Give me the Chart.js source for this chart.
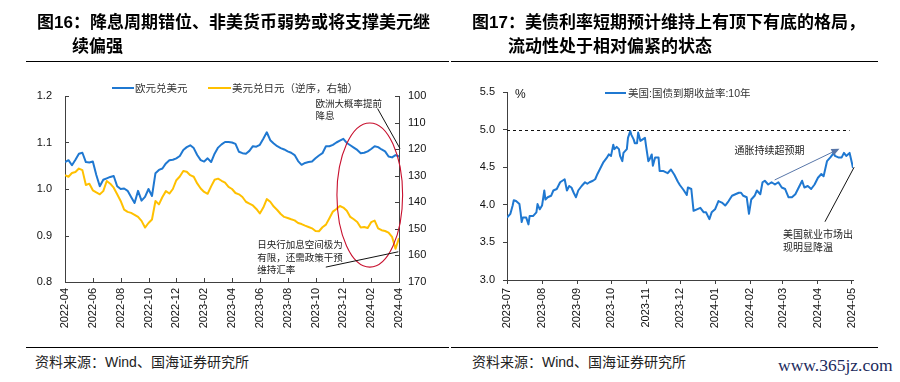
<!DOCTYPE html>
<html><head><meta charset="utf-8">
<script src="https://cdn.jsdelivr.net/npm/chart.js@4.4.1/dist/chart.umd.min.js"></script>
<style>
body{margin:0;background:#fff;}
#page{position:relative;width:900px;height:382px;overflow:hidden;background:#fff;}
.abs{position:absolute;white-space:nowrap;}
.title{font-size:17px;font-weight:700;color:#000;line-height:24px;font-family:"Liberation Sans","Noto Sans CJK SC",sans-serif;}
.rule{position:absolute;height:1px;background:#000;}
.foot{font-size:14px;color:#222;line-height:20px;font-family:"Liberation Sans","Noto Sans CJK SC",sans-serif;}
.leg{font-size:10.5px;color:#333;line-height:14px;font-family:"Liberation Sans","Noto Sans CJK SC",sans-serif;}
.legline{position:absolute;height:2px;}
canvas{position:absolute;top:0;}
</style></head>
<body><div id="page">
<canvas id="c1" width="450" height="345" style="left:0"></canvas>
<canvas id="c2" width="450" height="345" style="left:450px"></canvas>

<div class="abs title" style="left:37px;top:11px">图16：降息周期错位、非美货币弱势或将支撑美元继</div>
<div class="abs title" style="left:72px;top:35px">续偏强</div>
<div class="abs title" style="left:472px;top:11px">图17：美债利率短期预计维持上有顶下有底的格局，</div>
<div class="abs title" style="left:508px;top:35px">流动性处于相对偏紧的状态</div>
<div class="rule" style="left:26px;width:423px;top:61px"></div>
<div class="rule" style="left:451px;width:427px;top:61px"></div>

<div class="legline" style="left:112px;width:22px;top:87px;background:#1f78d1"></div>
<div class="abs leg" style="left:135px;top:81px">欧元兑美元</div>
<div class="legline" style="left:208px;width:23px;top:87px;background:#ffc000"></div>
<div class="abs leg" style="left:232px;top:81px">美元兑日元（逆序，右轴）</div>

<div class="legline" style="left:605px;width:21px;top:92px;background:#1f78d1"></div>
<div class="abs leg" style="left:628px;top:86px">美国:国债到期收益率:10年</div>
<div class="abs" style="left:515px;top:87px;font:12px 'Liberation Sans',sans-serif;color:#111">%</div>

<div class="rule" style="left:26px;width:423px;top:347px"></div>
<div class="rule" style="left:451px;width:427px;top:347px"></div>
<div class="abs foot" style="left:35px;top:352px">资料来源：Wind、国海证券研究所</div>
<div class="abs foot" style="left:472px;top:352px">资料来源：Wind、国海证券研究所</div>
<div class="abs" style="left:778px;top:355px;font:17.5px 'Liberation Serif',serif;color:#1b2a5c">www.365jz.com</div>
</div>
<script>
// ---------- Figure 16 data (weekly readings, Apr 2022 - Apr 2024) ----------
const fxTickLabels = ['2022-04','2022-06','2022-08','2022-10','2022-12','2023-02','2023-04','2023-06','2023-08','2023-10','2023-12','2024-02','2024-04'];
const fxStart = '2022-04';
const fxStepMonths = 0.25; // one reading per week
const eurUsd = [
1.058,1.062,1.051,1.063,1.076,1.078,1.058,1.057,1.059,1.030,
1.006,1.020,1.023,1.026,1.028,1.006,1.000,1.001,0.996,0.983,
0.970,0.996,0.975,0.983,1.000,0.985,1.034,1.041,1.044,1.055,
1.062,1.063,1.066,1.071,1.084,1.090,1.094,1.088,1.073,1.062,
1.059,1.066,1.058,1.076,1.089,1.096,1.101,1.101,1.100,1.097,
1.080,1.077,1.076,1.082,1.092,1.091,1.095,1.108,1.122,1.105,
1.098,1.092,1.088,1.085,1.081,1.078,1.073,1.060,1.052,1.056,
1.058,1.059,1.066,1.072,1.077,1.092,1.092,1.095,1.100,1.104,
1.108,1.099,1.094,1.089,1.084,1.077,1.078,1.081,1.086,1.092,
1.090,1.085,1.081,1.070,1.068,1.073,1.070];
const usdJpy = [
129.8,130.4,129.0,128.6,127.3,127.9,133.5,133.0,135.5,136.3,
137.0,135.8,132.0,133.0,134.5,137.0,139.5,142.8,143.6,144.0,
144.7,145.5,147.0,149.5,147.8,146.5,139.5,140.8,138.0,135.8,
136.7,135.0,131.7,130.3,128.2,128.5,129.8,130.4,132.9,134.8,
136.1,136.8,134.0,131.5,131.1,131.9,132.6,134.2,135.0,136.5,
137.0,138.0,139.8,140.5,141.2,142.5,144.2,142.0,138.8,139.8,
141.6,142.9,144.4,145.5,145.9,146.4,146.8,147.8,148.2,148.8,
149.3,149.8,150.8,150.9,149.4,148.4,146.0,143.5,142.5,141.4,
142.0,143.2,145.5,146.4,147.4,149.5,149.3,149.7,147.5,146.9,
149.8,150.5,150.8,151.4,153.0,157.5,153.5];
const fxLeftTicks = [0.8,0.9,1.0,1.1,1.2];
const fxRightTicks = [100,110,120,130,140,150,160,170];

// ---------- Figure 17 data (US 10Y yield, Jul 2023 - May 2024) ----------
const tsyTickLabels = ['2023-07','2023-08','2023-09','2023-10','2023-11','2023-12','2024-01','2024-02','2024-03','2024-04','2024-05'];
const tsyStart = '2023-07-01';
const tsyDay = [0,3,5,6,8,11,12,13,14,17,19,20,23,26,27,29,31,33,34,36,39,41,44,47,49,51,53,55,57,59,61,63,66,69,71,73,76,78,80,82,85,88,90,92,94,95,97,99,100,102,103,106,107,109,110,112,113,115,116,118,120,122,123,125,126,128,129,131,134,135,138,142,145,148,151,153,156,159,160,163,165,168,171,174,176,179,181,184,187,190,193,196,199,202,205,207,209,212,214,216,219,221,224,226,228,231,234,237,240,243,246,249,252,255,258,261,263,266,269,272,275,278,280,283,286,289,290,293,296,298,300,303,305,306];
const tsyYield = [3.83,3.88,3.99,4.06,4.05,4.01,3.90,3.77,3.83,3.83,3.74,3.85,3.85,3.90,4.01,3.94,3.99,4.19,4.07,4.10,4.12,4.19,4.21,4.30,4.32,4.34,4.19,4.25,4.23,4.16,4.10,4.19,4.25,4.30,4.28,4.30,4.32,4.34,4.41,4.47,4.56,4.62,4.67,4.65,4.80,4.74,4.77,4.74,4.65,4.58,4.69,4.74,4.89,4.98,4.93,4.87,4.82,4.82,4.96,4.85,4.87,4.89,4.78,4.58,4.60,4.67,4.52,4.63,4.63,4.45,4.45,4.42,4.47,4.40,4.31,4.26,4.20,4.13,4.23,4.21,3.92,3.94,3.96,3.90,3.90,3.81,3.90,3.94,4.05,4.03,3.99,4.05,4.12,4.14,4.16,4.16,4.12,4.10,3.88,4.07,4.12,4.19,4.14,4.30,4.32,4.27,4.30,4.27,4.30,4.23,4.21,4.10,4.10,4.14,4.23,4.32,4.23,4.25,4.21,4.27,4.36,4.41,4.38,4.58,4.63,4.69,4.65,4.63,4.63,4.69,4.65,4.69,4.56,4.49];
const tsyCeiling = 5.0;
const tsyTicks = [3.0,3.5,4.0,4.5,5.0,5.5];

// ---------- helpers ----------
const BLUE='#1f78d1', GOLD='#ffc000', AXIS='#404040';
const CJK = '"Noto Sans CJK SC", sans-serif';
Chart.defaults.font.family = '"Liberation Sans", Arial, sans-serif';
Chart.defaults.font.size = 11;
Chart.defaults.color = '#111';
function monthIndex(lbl, base){const [y,m]=lbl.split('-').map(Number);const [by,bm]=base.split('-').map(Number);return (y-by)*12+(m-bm);}
function dayIndex(lbl, base){const [y,m]=lbl.split('-').map(Number);const b=base.split('-').map(Number);return Math.round((Date.UTC(y,m-1,1)-Date.UTC(b[0],b[1]-1,b[2]))/86400000);}

const fxTickPos = fxTickLabels.map(l=>monthIndex(l,fxStart));
const fxLabelAt = {}; fxTickLabels.forEach((l,i)=>fxLabelAt[fxTickPos[i]]=l);
const eurPts = eurUsd.map((v,i)=>({x:i*fxStepMonths,y:v}));
const jpyPts = usdJpy.map((v,i)=>({x:i*fxStepMonths,y:v}));

const tsyTickPos = tsyTickLabels.map(l=>dayIndex(l,tsyStart));
const tsyLabelAt = {}; tsyTickLabels.forEach((l,i)=>tsyLabelAt[tsyTickPos[i]]=l);
const tsyPts = tsyYield.map((v,i)=>({x:tsyDay[i],y:v}));

function drawLines(ctx, lines, font, color){
  ctx.font = font; ctx.fillStyle = color; ctx.textBaseline='middle'; ctx.textAlign='left';
  lines.forEach(l=>ctx.fillText(l.t,l.x,l.y));
}

// annotations for Fig 16 (in data units: x = months since 2022-04, y = EUR/USD scale)
const fxNotes = {
  ecbText:[['欧洲大概率提前',18.0,1.184],['降息',18.0,1.158]],
  ecbLine:[[22.46,1.173],[24.07,1.087]],
  ellipse:{cx:21.9,cy:0.987,rx:2.36,ry:0.155},
  bojText:[['日央行加息空间极为',13.82,0.880],['有限，还需政策干预',13.82,0.853],['维持汇率',13.82,0.827]],
  bojLine:[[18.74,0.832],[23.95,0.865]]
};
const fxDecor = {
  id:'fxDecor',
  afterDatasetsDraw(chart){
    const {ctx, chartArea:a, scales:{x,y,y2}} = chart;
    ctx.save();
    ctx.strokeStyle=AXIS; ctx.lineWidth=1; ctx.beginPath();
    x.ticks.forEach(t=>{const p=Math.round(x.getPixelForValue(t.value))+0.5;ctx.moveTo(p,a.bottom);ctx.lineTo(p,a.bottom-4);});
    y.ticks.forEach(t=>{const p=Math.round(y.getPixelForValue(t.value))+0.5;ctx.moveTo(a.left,p);ctx.lineTo(a.left+4,p);});
    y2.ticks.forEach(t=>{const p=Math.round(y2.getPixelForValue(t.value))+0.5;ctx.moveTo(a.right,p);ctx.lineTo(a.right-4,p);});
    ctx.stroke();
    const P=(m,v)=>[x.getPixelForValue(m),y.getPixelForValue(v)];
    // ellipse
    const e=fxNotes.ellipse; const [cx,cy]=P(e.cx,e.cy);
    const rx=x.getPixelForValue(e.cx+e.rx)-cx, ry=y.getPixelForValue(e.cy-e.ry)-cy;
    ctx.strokeStyle='#c8102e'; ctx.lineWidth=1.1; ctx.beginPath(); ctx.ellipse(cx,cy,rx,ry,0,0,Math.PI*2); ctx.stroke();
    // pointer lines
    ctx.strokeStyle='#111'; ctx.lineWidth=1;
    [fxNotes.ecbLine, fxNotes.bojLine].forEach(l=>{const a1=P(...l[0]),b1=P(...l[1]);ctx.beginPath();ctx.moveTo(...a1);ctx.lineTo(...b1);ctx.stroke();});
    const font='9.5px '+CJK;
    drawLines(ctx, fxNotes.ecbText.concat(fxNotes.bojText).map(r=>{const p=P(r[1],r[2]);return {t:r[0],x:p[0],y:p[1]};}), font, '#222');
    ctx.restore();
  }
};

new Chart(document.getElementById('c1'),{
  type:'line',
  data:{datasets:[
    {label:'欧元兑美元',data:eurPts,yAxisID:'y',borderColor:BLUE,borderWidth:2,pointRadius:0,tension:0,borderJoinStyle:'round'},
    {label:'美元兑日元（逆序，右轴）',data:jpyPts,yAxisID:'y2',borderColor:GOLD,borderWidth:2,pointRadius:0,tension:0,borderJoinStyle:'round'}
  ]},
  options:{
    responsive:false,animation:false,
    layout:{padding:{top:96,left:0,right:0,bottom:0}},
    plugins:{legend:{display:false},tooltip:{enabled:false}},
    scales:{
      x:{type:'linear',min:0,max:24,
        afterBuildTicks:s=>{s.ticks=fxTickPos.map(v=>({value:v}));},
        afterFit:s=>{s.height=63;},
        grid:{display:false,drawTicks:false},border:{display:true,color:AXIS,width:1},
        ticks:{autoSkip:false,minRotation:90,maxRotation:90,padding:6,callback:v=>fxLabelAt[v]}},
      y:{type:'linear',position:'left',min:0.8,max:1.2,
        afterBuildTicks:s=>{s.ticks=fxLeftTicks.map(v=>({value:v}));},
        afterFit:s=>{s.width=65;},
        grid:{display:false,drawTicks:false},border:{display:true,color:AXIS,width:1},
        ticks:{padding:13,callback:v=>v.toFixed(1)}},
      y2:{type:'linear',position:'right',reverse:true,min:100,max:170,
        afterBuildTicks:s=>{s.ticks=fxRightTicks.map(v=>({value:v}));},
        afterFit:s=>{s.width=51;},
        grid:{display:false,drawTicks:false},border:{display:true,color:AXIS,width:1},
        ticks:{padding:9,callback:v=>String(v)}}
    }
  },
  plugins:[fxDecor]
});

// annotations for Fig 17 (x = days since 2023-07-01, y = yield %)
const tsyNotes = {
  arrow:[[236.7,4.33],[294,4.745]],
  inflText:[['通胀持续超预期',201.3,4.72]],
  jobLine:[[281.2,3.775],[307,4.50]],
  jobText:[['美国就业市场出',244,3.61],['现明显降温',244,3.43]]
};
const tsyDecor = {
  id:'tsyDecor',
  afterDatasetsDraw(chart){
    const {ctx, scales:{x,y}} = chart;
    const P=(d,v)=>[x.getPixelForValue(d),y.getPixelForValue(v)];
    ctx.save();
    // ceiling dashed line
    const yc=Math.round(y.getPixelForValue(tsyCeiling))+0.5;
    ctx.strokeStyle='#111'; ctx.lineWidth=1; ctx.setLineDash([3,3]);
    ctx.beginPath(); ctx.moveTo(x.getPixelForValue(0),yc); ctx.lineTo(x.getPixelForValue(303),yc); ctx.stroke();
    ctx.setLineDash([]);
    // arrow
    const a1=P(...tsyNotes.arrow[0]), b1=P(...tsyNotes.arrow[1]);
    const ang=Math.atan2(b1[1]-a1[1],b1[0]-a1[0]);
    ctx.strokeStyle='#5876a8'; ctx.fillStyle='#5876a8'; ctx.lineWidth=1;
    ctx.beginPath(); ctx.moveTo(...a1); ctx.lineTo(b1[0]-6*Math.cos(ang),b1[1]-6*Math.sin(ang)); ctx.stroke();
    ctx.beginPath(); ctx.moveTo(...b1);
    ctx.lineTo(b1[0]-8*Math.cos(ang)+3.5*Math.sin(ang), b1[1]-8*Math.sin(ang)-3.5*Math.cos(ang));
    ctx.lineTo(b1[0]-8*Math.cos(ang)-3.5*Math.sin(ang), b1[1]-8*Math.sin(ang)+3.5*Math.cos(ang));
    ctx.closePath(); ctx.fill();
    // job line
    const c1=P(...tsyNotes.jobLine[0]), d1=P(...tsyNotes.jobLine[1]);
    ctx.strokeStyle='#111'; ctx.beginPath(); ctx.moveTo(...c1); ctx.lineTo(...d1); ctx.stroke();
    const font='10px '+CJK;
    drawLines(ctx, tsyNotes.inflText.concat(tsyNotes.jobText).map(r=>{const p=P(r[1],r[2]);return {t:r[0],x:p[0],y:p[1]};}), font, '#222');
    ctx.restore();
  }
};

new Chart(document.getElementById('c2'),{
  type:'line',
  data:{datasets:[
    {label:'美国:国债到期收益率:10年',data:tsyPts,borderColor:BLUE,borderWidth:2,pointRadius:0,tension:0,borderJoinStyle:'round'}
  ]},
  options:{
    responsive:false,animation:false,
    layout:{padding:{top:92,left:0,right:47,bottom:0}},
    plugins:{legend:{display:false},tooltip:{enabled:false}},
    scales:{
      x:{type:'linear',min:0,max:306,
        afterBuildTicks:s=>{s.ticks=tsyTickPos.map(v=>({value:v}));},
        afterFit:s=>{s.height=65;},
        grid:{display:true,drawOnChartArea:false,drawTicks:true,tickLength:4,color:AXIS},border:{display:true,color:AXIS,width:1},
        ticks:{autoSkip:false,minRotation:90,maxRotation:90,padding:4,callback:v=>tsyLabelAt[v]}},
      y:{type:'linear',position:'left',min:3,max:5.5,
        afterBuildTicks:s=>{s.ticks=tsyTicks.map(v=>({value:v}));},
        afterFit:s=>{s.width=57;},
        grid:{display:true,drawOnChartArea:false,drawTicks:true,tickLength:4,color:AXIS},border:{display:true,color:AXIS,width:1},
        ticks:{padding:8,callback:v=>v.toFixed(1)}}
    }
  },
  plugins:[tsyDecor]
});
</script>
</body></html>
